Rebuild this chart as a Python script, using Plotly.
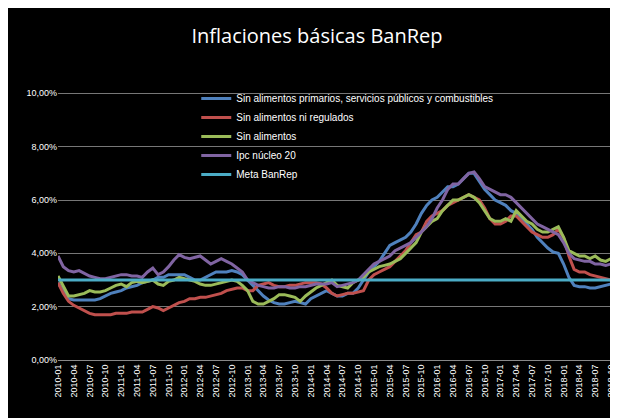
import plotly.graph_objects as go

months = [f"{y}-{m:02d}" for y in range(2010, 2019) for m in range(1, 13)][:106]
y_ticks = [0, 2, 4, 6, 8, 10]
y_labels = ["0,00%", "2,00%", "4,00%", "6,00%", "8,00%", "10,00%"]

sin_alim_prim = [2.9,2.6,2.3,2.25,2.25,2.25,2.25,2.25,2.3,2.4,2.5,2.55,
 2.6,2.7,2.75,2.8,2.9,2.95,3.0,3.1,3.1,3.2,3.2,3.2,
 3.2,3.1,3.0,3.0,3.1,3.2,3.3,3.3,3.3,3.35,3.3,3.2,
 3.0,2.8,2.6,2.4,2.25,2.15,2.1,2.1,2.15,2.2,2.15,2.1,
 2.3,2.4,2.5,2.6,2.5,2.4,2.4,2.5,2.5,2.7,3.0,3.3,
 3.5,3.7,4.0,4.3,4.4,4.5,4.6,4.8,5.1,5.5,5.8,6.0,
 6.1,6.3,6.5,6.5,6.6,6.8,7.0,7.0,6.7,6.4,6.2,6.0,
 5.9,5.8,5.6,5.5,5.3,5.1,4.9,4.6,4.4,4.2,4.05,4.0,
 3.6,3.1,2.8,2.75,2.75,2.7,2.7,2.75,2.8,2.85]
sin_alim_reg = [2.9,2.5,2.2,2.05,1.95,1.85,1.75,1.7,1.7,1.7,1.7,1.75,
 1.75,1.75,1.8,1.8,1.8,1.9,2.0,1.95,1.85,1.95,2.05,2.15,
 2.2,2.3,2.3,2.35,2.35,2.4,2.45,2.5,2.6,2.65,2.7,2.7,
 2.6,2.6,2.8,2.85,2.9,2.8,2.75,2.75,2.8,2.8,2.85,2.9,
 2.9,2.9,2.85,2.7,2.5,2.4,2.45,2.5,2.5,2.55,2.6,3.0,
 3.2,3.3,3.4,3.5,3.7,3.9,4.1,4.4,4.7,4.8,5.2,5.4,
 5.5,5.6,5.8,5.9,6.0,6.1,6.2,6.1,6.0,5.7,5.3,5.1,
 5.1,5.2,5.4,5.4,5.2,5.0,4.8,4.7,4.6,4.6,4.7,4.9,
 4.6,3.9,3.4,3.3,3.3,3.2,3.15,3.1,3.05,3.0]
sin_alim = [3.15,2.8,2.4,2.4,2.45,2.5,2.6,2.55,2.55,2.6,2.7,2.8,
 2.85,2.75,2.9,2.95,2.9,2.95,3.0,2.85,2.8,2.95,3.0,3.1,
 3.05,3.0,2.95,2.85,2.8,2.8,2.85,2.9,2.95,3.0,2.95,2.8,
 2.6,2.2,2.1,2.1,2.2,2.3,2.45,2.45,2.4,2.35,2.2,2.4,
 2.55,2.7,2.8,2.9,3.0,2.8,2.75,2.7,2.9,3.0,3.1,3.3,
 3.4,3.5,3.55,3.6,3.7,3.8,4.0,4.2,4.4,4.8,5.0,5.2,
 5.3,5.6,5.8,6.0,6.0,6.1,6.2,6.1,5.9,5.6,5.3,5.2,
 5.2,5.3,5.2,5.6,5.4,5.2,5.1,4.9,4.8,4.8,4.9,5.0,
 4.6,4.1,4.0,3.9,3.9,3.8,3.9,3.75,3.7,3.8]
ipc_nucleo20 = [3.9,3.5,3.35,3.3,3.35,3.25,3.15,3.1,3.05,3.05,3.1,3.15,
 3.2,3.2,3.15,3.15,3.1,3.3,3.45,3.2,3.3,3.5,3.75,3.95,
 3.85,3.8,3.85,3.9,3.75,3.6,3.7,3.8,3.7,3.6,3.45,3.3,
 3.0,2.9,2.8,2.75,2.7,2.7,2.75,2.75,2.7,2.7,2.75,2.75,
 2.8,2.85,2.85,2.85,2.9,2.75,2.8,2.85,2.9,3.0,3.2,3.4,
 3.6,3.7,3.8,3.9,4.1,4.2,4.3,4.4,4.6,4.8,5.0,5.3,
 5.7,6.0,6.4,6.6,6.6,6.8,7.0,7.05,6.8,6.5,6.4,6.3,
 6.2,6.2,6.1,5.9,5.7,5.5,5.3,5.1,5.0,4.9,4.8,4.7,
 4.4,4.0,3.8,3.75,3.7,3.7,3.6,3.6,3.55,3.6]
meta_banrep = [3.0] * len(months)

series = [
    ("Sin alimentos primarios, servicios públicos y combustibles", sin_alim_prim, "#4F81BD"),
    ("Sin alimentos ni regulados", sin_alim_reg, "#C0504D"),
    ("Sin alimentos", sin_alim, "#9BBB59"),
    ("Ipc núcleo 20", ipc_nucleo20, "#8064A2"),
    ("Meta BanRep", meta_banrep, "#4BACC6"),
]

fig = go.Figure()
for name, vals, col in series:
    fig.add_trace(go.Scatter(x=months, y=vals, name=name, mode="lines",
                             line=dict(color=col, width=3)))

fig.update_layout(
    width=618, height=418,
    paper_bgcolor="black", plot_bgcolor="black",
    margin=dict(l=50, r=10, t=76, b=66),
    font=dict(family="Liberation Sans, Arial", color="white", size=10),
    title=dict(text="Inflaciones básicas BanRep", x=0.5, xanchor="center", y=0.95,
               font=dict(size=20, color="white", family="Open Sans, Liberation Sans")),
    legend=dict(x=0.25, y=1.0, xanchor="left", yanchor="top", bgcolor="rgba(0,0,0,0)",
                font=dict(size=10, color="white"), tracegroupgap=0, itemwidth=30),
    showlegend=True,
)
fig.update_xaxes(type="category", range=[0, 105], tickmode="array", tickvals=months[::3],
                 ticktext=months[::3], tickangle=-90, showgrid=False, showline=True,
                 linecolor="#888", tickfont=dict(size=9, color="white"))
fig.update_yaxes(range=[0, 10.35], tickmode="array", tickvals=y_ticks, ticktext=y_labels,
                 showgrid=True, gridcolor="#777", gridwidth=1, zeroline=False,
                 tickfont=dict(size=9, color="white"))
fig.write_html("out.html")
